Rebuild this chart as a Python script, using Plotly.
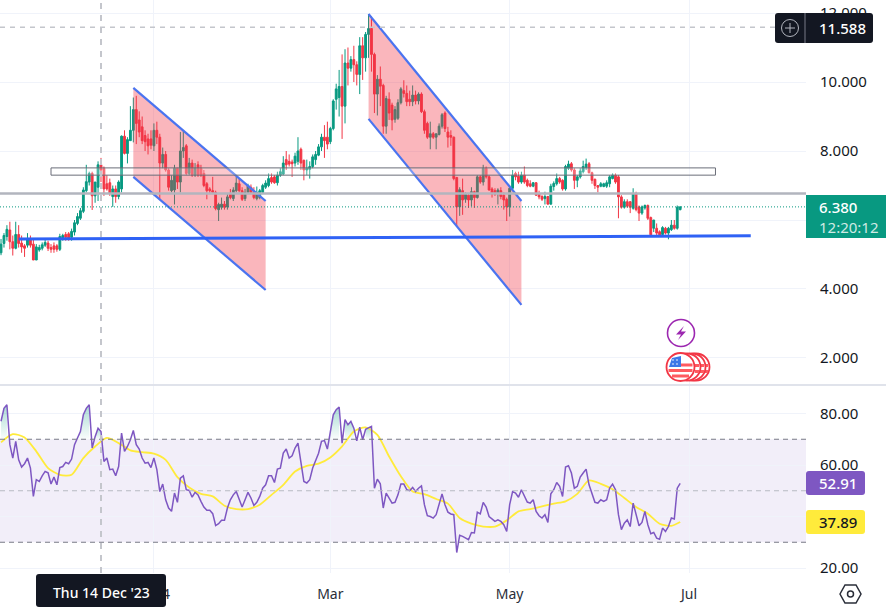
import pandas as pd
import plotly.graph_objects as go

# daily candles (Nov, Dec, Jan, Feb, Mar, Apr, May, Jun)
opens = [
    5.05, 5.32, 5.52, 5.71, 5.37, 5.18, 5.58, 5.33, 5.25, 5.27, 5.45, 5.30, 4.84, 5.13, 5.18, 5.27, 5.33, 5.20, 5.25, 5.25, 5.15,
    5.45, 5.58, 5.60, 5.50, 5.65, 5.90, 6.05, 6.25, 6.85, 7.10, 7.35, 6.70, 6.95, 7.60, 7.50, 7.05, 7.08, 6.68, 6.90, 6.68, 6.90, 8.43, 7.93, 8.30, 8.60, 9.20, 8.90, 8.70, 8.45, 8.35, 8.35,
    8.15, 8.60, 8.40, 7.65, 7.90, 7.45, 6.85, 6.87, 7.50, 7.10, 8.00, 8.15, 7.35, 7.65, 7.30, 7.60, 7.50, 7.35, 7.05, 6.90, 6.85, 6.80, 6.30, 6.37, 6.46, 6.38, 6.75, 6.62, 6.85, 7.05, 6.85,
    6.62, 6.80, 6.95, 6.80, 6.62, 6.65, 6.80, 6.95, 7.00, 7.23, 7.25, 7.08, 7.30, 7.33, 7.75, 7.70, 7.68, 7.65, 7.70, 8.05, 7.73, 7.45, 7.47, 7.55, 7.75, 7.88, 8.12, 8.40, 8.40,
    8.27, 8.65, 9.50, 9.55, 9.87, 9.30, 10.55, 10.40, 10.65, 10.50, 10.22, 11.05, 10.70, 11.38, 11.55, 10.80, 9.65, 10.08, 9.90, 8.72, 9.50, 9.33, 8.92, 8.95, 9.40, 9.75, 9.67, 9.50, 9.43, 9.62, 9.45,
    9.65, 9.14, 8.80, 8.40, 8.50, 8.40, 8.48, 8.72, 9.10, 8.55, 8.45, 8.40, 7.23, 6.38, 6.85, 6.60, 6.72, 6.58, 6.82, 6.65, 7.25, 7.10, 7.50, 7.25, 6.90, 6.85, 6.78, 6.85, 6.72, 6.60,
    6.38, 6.92, 7.35, 7.27, 7.10, 7.30, 7.15, 7.05, 6.98, 7.08, 6.77, 6.68, 6.62, 6.68, 6.46, 6.97, 7.05, 7.20, 7.15, 6.90, 7.50, 7.63, 7.45, 7.15, 7.25, 7.40, 7.52, 7.63, 7.37, 7.18, 7.00,
    6.98, 6.97, 6.98, 7.05, 7.20, 7.30, 7.25, 6.67, 6.37, 6.53, 6.53, 6.34, 6.77, 6.38, 6.20, 6.35, 6.42, 6.07, 5.76, 5.76, 5.66, 5.58, 5.76, 5.62, 5.72, 5.85, 5.76, 6.30,
]
highs = [
    5.45, 5.62, 5.85, 5.95, 5.55, 5.95, 5.85, 5.55, 5.30, 5.62, 5.55, 5.42, 5.30, 5.28, 5.35, 5.45, 5.40, 5.30, 5.35, 5.30, 5.60,
    5.60, 5.65, 5.65, 5.75, 6.00, 6.20, 6.35, 6.95, 7.60, 7.40, 7.40, 7.10, 7.70, 7.80, 7.55, 7.30, 7.20, 7.00, 7.00, 7.15, 8.45, 8.60, 8.40, 9.30, 9.55, 9.60, 9.15, 9.00, 8.60, 8.50, 8.60,
    8.80, 8.85, 8.50, 8.10, 8.00, 7.50, 7.30, 7.60, 7.50, 8.55, 8.60, 8.20, 7.80, 7.75, 7.65, 7.70, 7.60, 7.45, 7.10, 6.95, 7.25, 6.85, 6.50, 6.65, 6.55, 6.75, 6.90, 6.95, 7.25, 7.20, 6.95,
    6.90, 7.05, 7.03, 6.95, 6.97, 6.90, 7.05, 7.15, 7.35, 7.35, 7.30, 7.40, 7.50, 7.85, 8.00, 7.90, 7.75, 7.95, 8.40, 8.10, 7.75, 7.75, 7.70, 7.90, 8.00, 8.20, 8.50, 8.75, 8.85,
    8.70, 9.50, 9.95, 10.35, 10.80, 10.95, 11.00, 10.75, 11.05, 10.60, 11.30, 11.30, 11.45, 11.97, 11.90, 10.85, 10.20, 10.45, 9.95, 9.60, 9.70, 9.40, 9.30, 9.50, 9.85, 10.05, 9.90, 9.75, 9.90, 9.75, 9.70,
    9.70, 9.20, 8.85, 8.85, 8.55, 8.50, 8.80, 9.10, 9.15, 8.70, 8.60, 8.42, 7.25, 6.95, 7.20, 6.80, 6.78, 6.95, 6.85, 7.30, 7.30, 7.60, 7.55, 7.30, 6.95, 6.92, 6.92, 6.95, 6.80, 6.65,
    7.00, 7.45, 7.40, 7.40, 7.40, 7.55, 7.20, 7.15, 7.10, 7.10, 6.85, 6.72, 6.82, 6.70, 7.05, 7.12, 7.35, 7.25, 7.18, 7.60, 7.72, 7.68, 7.50, 7.30, 7.50, 7.72, 7.78, 7.68, 7.40, 7.20, 7.00,
    7.10, 7.08, 7.15, 7.30, 7.35, 7.35, 7.30, 6.72, 6.60, 6.60, 6.55, 6.92, 6.82, 6.42, 6.42, 6.45, 6.45, 6.10, 6.00, 5.90, 5.70, 5.82, 5.80, 5.80, 6.00, 6.00, 6.42, 6.40,
]
lows = [
    4.98, 5.20, 5.40, 5.15, 4.97, 5.15, 5.20, 5.05, 4.93, 5.20, 5.20, 4.84, 4.84, 5.08, 5.12, 5.22, 5.10, 5.05, 5.05, 5.08, 5.10,
    5.40, 5.40, 5.40, 5.40, 5.55, 5.85, 6.00, 6.20, 6.80, 7.00, 6.29, 6.50, 6.55, 7.10, 6.70, 6.85, 6.70, 6.38, 6.50, 6.60, 6.80, 7.90, 7.64, 8.30, 8.25, 8.20, 8.40, 8.20, 8.00, 7.90, 8.05,
    8.00, 8.20, 6.60, 7.50, 7.40, 6.85, 6.80, 6.45, 6.90, 6.80, 7.80, 7.30, 7.30, 7.25, 7.25, 7.25, 7.25, 6.95, 6.60, 6.75, 6.75, 6.28, 5.97, 6.30, 6.30, 6.30, 6.60, 6.55, 6.80, 6.80, 6.55,
    6.55, 6.75, 6.75, 6.60, 6.57, 6.60, 6.75, 6.90, 6.95, 7.05, 7.05, 7.00, 7.25, 7.30, 7.45, 7.55, 7.25, 7.55, 7.60, 7.45, 7.15, 7.30, 7.20, 7.50, 7.60, 7.85, 8.00, 7.80, 8.05,
    8.20, 8.60, 9.20, 9.00, 8.35, 8.80, 9.90, 10.30, 10.00, 9.90, 9.65, 10.06, 10.30, 10.70, 10.30, 9.10, 9.03, 9.30, 8.50, 8.50, 8.90, 8.60, 8.82, 8.90, 9.35, 9.55, 9.30, 9.30, 9.30, 9.35, 9.35,
    9.10, 8.50, 8.35, 8.05, 8.35, 8.05, 8.45, 8.65, 8.55, 8.10, 8.15, 7.15, 5.80, 6.12, 6.15, 6.50, 6.35, 6.40, 6.35, 6.62, 7.05, 7.00, 7.20, 6.85, 6.65, 6.70, 6.45, 6.60, 6.30, 5.97,
    6.10, 6.85, 7.15, 7.05, 7.05, 7.05, 6.95, 6.95, 6.95, 6.70, 6.60, 6.55, 6.45, 6.45, 6.45, 6.85, 7.00, 7.05, 6.85, 6.85, 7.45, 7.40, 6.90, 6.95, 7.20, 7.35, 7.45, 7.35, 7.05, 6.90, 6.80,
    6.95, 6.95, 6.93, 6.95, 7.18, 7.05, 6.05, 6.33, 6.33, 6.35, 6.20, 6.30, 6.25, 5.97, 6.15, 6.30, 6.00, 5.53, 5.65, 5.55, 5.52, 5.52, 5.58, 5.44, 5.68, 5.72, 5.72, 6.28,
]
closes = [
    5.30, 5.55, 5.73, 5.37, 5.18, 5.58, 5.32, 5.22, 5.18, 5.44, 5.27, 4.84, 5.22, 5.20, 5.28, 5.35, 5.18, 5.15, 5.15, 5.15, 5.52,
    5.55, 5.50, 5.46, 5.67, 5.92, 6.10, 6.27, 6.87, 7.11, 7.35, 6.70, 7.10, 7.60, 7.45, 6.90, 6.90, 6.77, 6.90, 6.68, 7.10, 8.43, 7.93, 8.33, 8.60, 9.20, 8.80, 8.55, 8.30, 8.27, 8.15, 8.17,
    8.60, 8.40, 7.65, 7.90, 7.45, 6.95, 7.15, 7.50, 7.10, 8.00, 8.10, 7.35, 7.65, 7.30, 7.50, 7.30, 7.30, 7.00, 6.85, 6.85, 6.80, 6.33, 6.45, 6.46, 6.37, 6.67, 6.65, 6.87, 7.07, 6.85, 6.60,
    6.80, 7.00, 6.80, 6.65, 6.80, 6.85, 7.00, 7.07, 7.20, 7.10, 7.08, 7.30, 7.40, 7.65, 7.60, 7.62, 7.63, 7.85, 8.00, 7.65, 7.45, 7.50, 7.55, 7.83, 7.90, 8.12, 8.40, 8.30, 8.20,
    8.65, 9.45, 9.80, 9.87, 9.30, 10.55, 10.40, 10.65, 10.50, 10.22, 11.05, 10.70, 11.38, 11.55, 10.80, 9.65, 10.08, 9.88, 8.72, 9.52, 9.10, 8.90, 9.20, 9.40, 9.80, 9.67, 9.43, 9.43, 9.62, 9.45, 9.65,
    9.14, 8.60, 8.40, 8.50, 8.40, 8.50, 8.72, 9.05, 8.65, 8.40, 8.40, 7.20, 6.38, 6.88, 6.58, 6.75, 6.58, 6.82, 6.65, 7.25, 7.10, 7.50, 7.25, 6.87, 6.75, 6.75, 6.87, 6.68, 6.58, 6.38,
    6.92, 7.30, 7.25, 7.10, 7.30, 7.10, 7.00, 6.98, 7.08, 6.72, 6.67, 6.60, 6.68, 6.46, 6.98, 7.06, 7.20, 7.10, 6.90, 7.55, 7.62, 7.45, 7.15, 7.25, 7.42, 7.55, 7.62, 7.37, 7.15, 7.00, 6.95,
    7.05, 7.05, 7.08, 7.25, 7.30, 7.10, 6.67, 6.37, 6.53, 6.40, 6.37, 6.77, 6.30, 6.20, 6.38, 6.42, 6.05, 5.57, 6.00, 5.62, 5.57, 5.78, 5.62, 5.76, 5.85, 5.76, 6.37, 6.38,
]
dates = [d.strftime("%Y-%m-%d") for d in pd.date_range("2023-11-10", periods=len(closes))]

rsi = [
    77, 82, 83.4, 67.9, 62.7, 69.2, 62, 59.2, 60.5, 62.7, 58.8, 47.8, 54.3, 53.6, 55.8, 57.5, 57, 52.6, 55.3, 52.3,
    59, 59.4, 61, 60.5, 62.3, 67.9, 70.5, 73, 79.5, 82, 83.4, 66.6, 71, 74.3, 73, 61.4, 62.7, 58.2, 58.4, 55.8,
    59.4, 72.4, 65.3, 67.2, 69.8, 73.4, 67.9, 66.2, 62.7, 60.7, 61, 59, 62.7, 58.2, 49.7, 52.6, 46.5, 43.3, 42, 49.1,
    45.5, 54.9, 55.8, 50.4, 50.1, 47.5, 49.4, 48.4, 45.9, 43.7, 42.4, 42.4, 41.1, 36.5, 37.2, 38.5, 38.5, 43.3, 46.5, 48.4,
    49.7, 46.5, 43.7, 46.5, 49.4, 47.2, 44.3, 45.5, 47.8, 51, 52.3, 55.8, 55.8, 53.2, 58.4, 58.8, 64.6, 66.2, 62.7, 63.6, 66.6, 68.5,
    60.1, 53.6, 53, 54.3, 58.8, 62, 64.6, 69.2, 69.5, 66.2, 72.4, 79.5, 81.5, 82.5, 68.5, 77.6, 75.6, 76.9, 74.3, 69.4,
    74.7, 69.8, 73.9, 74.3, 75, 51, 54.5, 52.7, 43.3, 49.1, 47.2, 45.2, 45.5, 48.4, 52.6, 52.6, 50.4, 50, 51.3, 49.7,
    51, 51.9, 44.6, 40.3, 40, 39.4, 40.7, 44.6, 48.8, 44.6, 41.7, 41, 40.7, 26, 32.7, 32.3, 31.6, 31, 33.8, 33.6,
    41.7, 41, 45.5, 43.7, 40, 39, 38.1, 38.7, 38.1, 36.8, 34.2, 44.6, 49.7, 49.1, 47.5, 50.4, 47.8, 45.6, 45.2, 46.5,
    42, 40.3, 39.4, 40.7, 37.7, 48.8, 50.4, 53.2, 51.7, 47.8, 59.2, 59.7, 56.9, 51, 51.7, 55.3, 56.9, 58.4, 52.3, 48.4, 45.5, 45.2,
    46.5, 45.9, 46.5, 51, 52.6, 50.4, 40.7, 34.9, 37.4, 38.7, 36.1, 45.2, 40.7, 36.4, 37.7, 42, 36.8, 33.3, 33.8, 31.6,
    31.2, 35.5, 34.2, 36.1, 39.4, 39, 51, 52.91,
]
# rsi average, read every 4th day plus the last one
ma_dates = dates[::4] + [dates[-1]]
ma_values = [
    68.8, 72, 70.7, 65.3, 58.8, 56.2, 56.2, 62.7, 67.2, 70.5, 68.5, 65.7, 65, 64.4, 62, 55.3, 51.3, 48.8, 47.8, 44.2,
    42.9, 42.9, 44.6, 48.4, 52.3, 57.5, 59.7, 60.5, 62.9, 67.2, 73, 74.6, 71.7, 63.3, 55.6, 49.7, 48.7, 46.8, 45, 39.4,
    37.2, 36.1, 36.1, 38.5, 42, 42.9, 43.9, 45, 45.9, 48.8, 54, 52.7, 50.6, 47.2, 43.7, 41.1, 37.2, 36.4, 37.89,
]

# drawings on the price pane
channels = [
    {"dates": ["2023-12-25", "2024-02-08"], "upper": [9.83, 6.55], "lower": [7.25, 3.97]},
    {"dates": ["2024-03-14", "2024-05-05"], "upper": [11.97, 6.55], "lower": [8.93, 3.54]},
]
support_dates = ["2023-11-16", "2024-07-22"]
support_prices = [5.45, 5.54]
zone_dates = ["2023-11-27", "2024-07-10"]
zone_prices = [7.30, 7.51]
resistance = 6.77
last_price = 6.38
high_price = 11.588
cross_date = "2023-12-14"

price_ticks = [2, 4, 6, 8, 10, 12]
price_labels = ["2.000", "4.000", "", "8.000", "10.000", "12.000"]
rsi_ticks = [20, 40, 60, 80]
rsi_labels = ["20.00", "", "60.00", "80.00"]
month_ticks = ["2024-01-01", "2024-03-01", "2024-05-01", "2024-07-01"]
month_labels = ["2024", "Mar", "May", "Jul"]

W, H = 886, 612
PAGE_H = 608  # height the page really gives the figure
FONT = "Noto Sans"
UP = "#089981"
DOWN = "#f23645"
BLUE = "#4a74f0"
DARK = "#131722"


def px(x):
    return x / W


def py(y):
    return 1 - y / PAGE_H


fig = go.Figure()
fig.add_trace(go.Candlestick(
    x=dates, open=opens, high=highs, low=lows, close=closes, whiskerwidth=0,
    increasing=dict(line=dict(color=UP, width=1), fillcolor=UP),
    decreasing=dict(line=dict(color=DOWN, width=1), fillcolor=DOWN),
))

for ch in channels:
    # parallelogram: top line, then down the right side, back along the bottom line
    fig.add_trace(go.Scatter(
        x=ch["dates"] + ch["dates"][::-1], y=ch["upper"] + ch["lower"][::-1],
        mode="lines", line=dict(width=0), fill="toself", fillcolor="rgba(242,54,69,0.36)",
    ))
    fig.add_trace(go.Scatter(x=ch["dates"], y=ch["upper"], mode="lines", line=dict(color=BLUE, width=2.2)))
    fig.add_trace(go.Scatter(x=ch["dates"], y=ch["lower"], mode="lines", line=dict(color=BLUE, width=2.2)))

fig.add_trace(go.Scatter(x=support_dates, y=support_prices, mode="lines", line=dict(color="#2f62f5", width=3)))

# green shading where rsi is over 70
segment = []
for i, v in enumerate(rsi + [0]):
    if v > 70:
        segment.append(i)
    elif segment:
        seg_x = [dates[j] for j in segment]
        seg_y = [rsi[j] for j in segment]
        fig.add_trace(go.Scatter(
            x=seg_x + seg_x[::-1], y=seg_y + [70] * len(seg_x), yaxis="y2", mode="lines",
            line=dict(width=0), fill="toself",
            fillgradient=dict(type="vertical", colorscale=[[0, "rgba(8,153,129,0.02)"], [1, "rgba(8,153,129,0.35)"]]),
        ))
        segment = []

fig.add_trace(go.Scatter(x=ma_dates, y=ma_values, yaxis="y2", mode="lines",
                         line=dict(color="#ffeb3b", width=1.8, shape="spline", smoothing=0.7)))
fig.add_trace(go.Scatter(x=dates, y=rsi, yaxis="y2", mode="lines", line=dict(color="#7e57c2", width=1.5)))


def hline(yref, value, color, width, dash="solid", layer="above"):
    fig.add_shape(type="line", xref="x domain", x0=0, x1=1, yref=yref, y0=value, y1=value,
                  line=dict(color=color, width=width, dash=dash), layer=layer)


hline("y", high_price, "#c4c6cc", 1.5, "5px,5px")
hline("y", resistance, "#b2b5be", 2.5)
hline("y", last_price, UP, 1, "1px,2px")
fig.add_shape(type="rect", x0=zone_dates[0], x1=zone_dates[1], y0=zone_prices[0], y1=zone_prices[1],
              yref="y", line=dict(color="#6a6d78", width=1), fillcolor="rgba(255,255,255,0.25)")

fig.add_shape(type="rect", xref="x domain", x0=0, x1=1, yref="y2", y0=30, y1=70,
              fillcolor="rgba(126,87,194,0.1)", line=dict(width=0), layer="below")
hline("y2", 70, "#787b86", 1.2, "5px,4px")
hline("y2", 50, "#b8bac2", 1.2, "5px,4px")
hline("y2", 30, "#787b86", 1.2, "5px,4px")

# crosshair
fig.add_shape(type="line", x0=cross_date, x1=cross_date, yref="paper", y0=py(573), y1=1,
              line=dict(color="#c4c6cc", width=2, dash="6px,6px"))

# pane separator
fig.add_shape(type="line", xref="paper", x0=0, x1=1, yref="paper", y0=py(385), y1=py(385),
              line=dict(color="#e0e3eb", width=2))


def box(x0, y0, x1, y1, color, r=3):
    path = (f"M{px(x0 + r)},{py(y0)} L{px(x1 - r)},{py(y0)} Q{px(x1)},{py(y0)} {px(x1)},{py(y0 + r)} "
            f"L{px(x1)},{py(y1 - r)} Q{px(x1)},{py(y1)} {px(x1 - r)},{py(y1)} L{px(x0 + r)},{py(y1)} "
            f"Q{px(x0)},{py(y1)} {px(x0)},{py(y1 - r)} L{px(x0)},{py(y0 + r)} Q{px(x0)},{py(y0)} {px(x0 + r)},{py(y0)} Z")
    fig.add_shape(type="path", xref="paper", yref="paper", path=path, fillcolor=color, line=dict(width=0))


def circle(cx, cy, r, fill, line, width):
    fig.add_shape(type="circle", xref="paper", yref="paper", x0=px(cx - r), x1=px(cx + r),
                  y0=py(cy + r), y1=py(cy - r), fillcolor=fill, line=dict(color=line, width=width))


def poly(points, fill="rgba(0,0,0,0)", line="rgba(0,0,0,0)", width=0, close=True):
    path = "M" + " L".join(f"{px(a)},{py(b)}" for a, b in points) + (" Z" if close else "")
    fig.add_shape(type="path", xref="paper", yref="paper", path=path, fillcolor=fill, line=dict(color=line, width=width))


def label(x, y, text, color="white", size=15, xanchor="left", weight=500):
    fig.add_annotation(xref="paper", yref="paper", x=px(x), y=py(y), text=text, showarrow=False, xanchor=xanchor,
                       yanchor="middle", borderpad=0, font=dict(family=FONT, size=size, color=color, weight=weight))


# price badges
box(775, 13, 873, 43, DARK)
poly([(805, 13), (805, 43)], line="#787b86", width=1, close=False)
circle(790, 28, 8.5, "rgba(0,0,0,0)", "#b2b5be", 1)
poly([(785, 28), (795, 28)], line="#b2b5be", width=1, close=False)
poly([(790, 23), (790, 33)], line="#b2b5be", width=1, close=False)
label(818, 28, "11.588")
box(806, 195, 890, 238, UP, r=0)
label(818, 207, "6.380")
label(818, 227, "12:20:12", color="#cfeae4", weight=400)
box(806, 471, 865, 495, "#7e57c2")
label(818, 483, "52.91")
box(806, 510, 865, 534, "#ffeb3b")
label(818, 522, "37.89", color=DARK)
box(36, 574, 166, 607, DARK)
label(101, 592, "Thu 14 Dec '23", size=14, xanchor="center")

# settings hexagon
poly([(840, 594), (845, 585), (856, 585), (861, 594), (856, 603), (845, 603)], line="#2a2e39", width=1.5)
circle(850.5, 594, 3, "rgba(0,0,0,0)", "#2a2e39", 1.5)

# event markers
circle(681, 333, 13.5, "white", "#9c27b0", 1.6)
poly([(684, 326), (676, 334.5), (681, 334.5), (678, 340), (686, 331.5), (681, 331.5)], fill="#9c27b0")
for cx in [696, 692, 687]:
    circle(cx, 367, 13.5, "white", "#f23645", 1.8)
    poly([(cx + 8, 364), (cx + 12, 364), (cx + 12, 367), (cx + 8, 367)], fill="#ff5a60")
    poly([(cx + 8, 370), (cx + 12, 370), (cx + 12, 373), (cx + 8, 373)], fill="#ff5a60")
circle(680.5, 367, 14, "white", "#f23645", 1.8)
for y0, hw in [(363.5, 12), (369, 12), (374.5, 8.5)]:
    poly([(680.5 - hw if y0 > 365 else 680.5, y0), (680.5 + hw, y0), (680.5 + hw, y0 + 3), (680.5 - hw if y0 > 365 else 680.5, y0 + 3)],
         fill="#ff5a60")
poly([(672, 358), (681, 356), (681, 367), (669, 367)], fill="#3d78e8")
for dx, dy in [(673, 360), (677, 360), (673, 364), (677, 364)]:
    circle(dx, dy, 0.8, "white", "white", 0)

fig.update_layout(
    width=W, height=H, margin=dict(l=0, r=0, t=0, b=0), paper_bgcolor="white", plot_bgcolor="white",
    showlegend=False, font=dict(family=FONT, color=DARK, size=15), boxgap=0.12,
    xaxis=dict(
        domain=[0, px(806)], anchor="y2", range=["2023-11-09 15:36", "2024-08-09 19:00"], rangeslider=dict(visible=False),
        tickmode="array", tickvals=month_ticks, ticktext=month_labels, ticks="", ticklabelstandoff=11,
        tickfont=dict(size=14, color="#2a2e39"), showgrid=True, gridcolor="#f0f3fa", zeroline=False,
    ),
    yaxis=dict(
        domain=[py(385), 1], range=[1.217, 12.377], side="right", anchor="x", tickmode="array",
        tickvals=price_ticks, ticktext=price_labels, ticks="", ticklabelstandoff=13,
        gridcolor="#f0f3fa", zeroline=False,
    ),
    yaxis2=dict(
        domain=[py(573), py(386)], range=[18.06, 90.68], side="right", anchor="x", tickmode="array",
        tickvals=rsi_ticks, ticktext=rsi_labels, ticks="", ticklabelstandoff=13,
        gridcolor="#f0f3fa", zeroline=False,
    ),
)

fig.write_html("out.html", config={"displayModeBar": False},
               post_script="document.body.style.margin='0';document.documentElement.style.overflow='hidden';")
